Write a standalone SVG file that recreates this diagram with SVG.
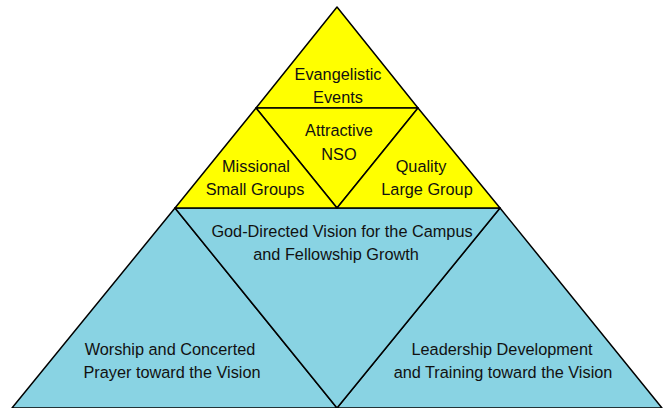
<svg xmlns="http://www.w3.org/2000/svg" width="670" height="408" viewBox="0 0 670 408">
<style>
.y{fill:#FFFF00;stroke:#000;stroke-width:1.5;stroke-linejoin:round}
.b{fill:#89D3E3;stroke:#000;stroke-width:1.5;stroke-linejoin:round}
text{font-family:"Liberation Sans",Arial,sans-serif;font-size:16.3px;fill:#111;text-anchor:middle}
</style>
<rect width="670" height="408" fill="#fff"/>
<g id="worship">
<polygon class="b" points="175,208 337,408 12,408"/>
<text x="170" y="355">Worship and Concerted</text>
<text x="172" y="378">Prayer toward the Vision</text>
</g>
<g id="leadership">
<polygon class="b" points="500,208 662,408 337,408"/>
<text x="502" y="355">Leadership Development</text>
<text x="503" y="378">and Training toward the Vision</text>
</g>
<g id="vision">
<polygon class="b" points="175,208 500,208 337,408"/>
<text x="342" y="237">God-Directed Vision for the Campus</text>
<text x="336" y="260">and Fellowship Growth</text>
</g>
<g id="evangelistic">
<polygon class="y" points="337,7 256,108 418,108"/>
<text x="338" y="80">Evangelistic</text>
<text x="338" y="103">Events</text>
</g>
<g id="nso">
<polygon class="y" points="256,108 418,108 337,208"/>
<text x="339" y="136">Attractive</text>
<text x="339" y="160">NSO</text>
</g>
<g id="small-groups">
<polygon class="y" points="256,108 337,208 175,208"/>
<text x="256" y="172">Missional</text>
<text x="255" y="195">Small Groups</text>
</g>
<g id="large-group">
<polygon class="y" points="418,108 500,208 337,208"/>
<text x="421" y="172">Quality</text>
<text x="427" y="195">Large Group</text>
</g>
</svg>
